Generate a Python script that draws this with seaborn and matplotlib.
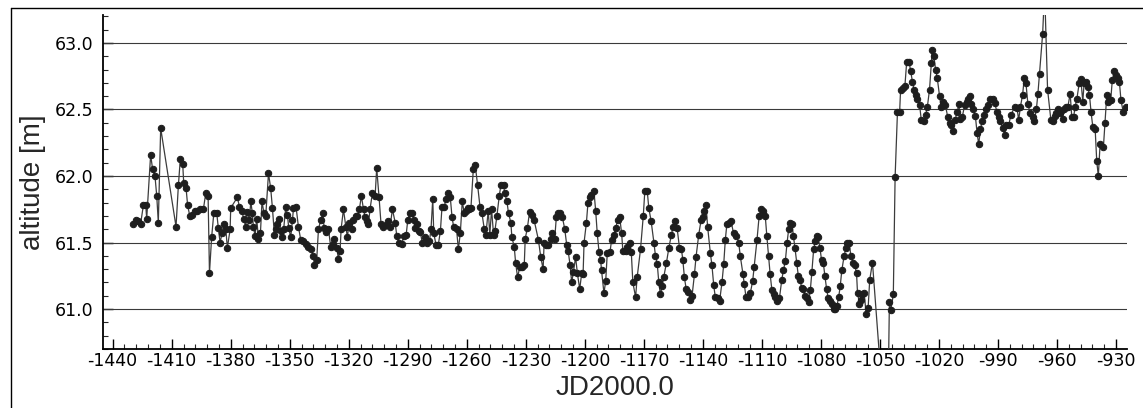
import numpy as np
import pandas as pd
import seaborn as sns
import matplotlib.pyplot as plt
from matplotlib.lines import Line2D
from matplotlib.ticker import MultipleLocator

# values (JD2000.0 day, altitude in m)
jd_early = [-1429.5, -1428.1, -1426.9, -1425.8, -1424.4, -1423.2, -1422.7, -1420.7, -1419.7, -1418.5,
            -1417.6, -1416.8, -1415.6, -1407.8, -1406.6, -1405.6, -1404.4, -1403.9, -1402.7, -1401.9,
            -1400.8, -1399.8, -1398.1, -1396.9, -1395.6, -1393.9, -1392.7, -1391.5, -1390.8, -1389.7,
            -1388.6, -1387.1, -1386.3, -1385.4, -1384.4, -1383.6, -1382.5, -1381.7, -1380.3, -1380.0,
            -1376.6, -1375.6, -1374.4, -1373.4, -1372.4, -1371.5, -1370.5, -1369.8, -1369.0, -1368.5,
            -1367.6, -1366.8, -1365.9, -1364.9, -1364.1, -1363.1, -1362.2, -1360.8, -1359.7, -1358.8,
            -1357.8, -1356.9, -1356.3, -1355.4, -1354.6, -1353.9, -1353.1, -1352.0, -1351.2, -1350.5,
            -1349.5, -1348.6, -1348.1, -1346.8, -1345.6, -1344.4, -1343.1, -1341.7, -1340.5, -1339.3,
            -1338.0, -1337.5, -1336.3, -1335.4, -1334.2, -1333.2, -1332.5, -1331.5, -1330.3, -1329.2,
            -1328.1, -1327.3, -1326.1, -1325.3, -1324.4, -1323.9, -1322.7, -1321.5, -1320.7, -1319.8,
            -1318.5, -1317.6, -1316.4, -1315.6, -1314.6, -1313.6, -1312.5, -1311.7, -1310.8, -1310.0,
            -1309.2, -1308.0, -1306.6, -1305.8, -1304.6, -1303.6, -1302.4, -1301.0, -1299.8, -1299.0,
            -1297.8, -1296.4, -1295.6, -1294.7]
alt_early = [61.64, 61.67, 61.66, 61.64, 61.78, 61.78, 61.68, 62.16, 62.05, 62.00,
             61.85, 61.65, 62.36, 61.62, 61.93, 62.13, 62.09, 61.95, 61.91, 61.78,
             61.70, 61.71, 61.74, 61.74, 61.75, 61.75, 61.87, 61.85, 61.27, 61.54,
             61.72, 61.72, 61.61, 61.50, 61.57, 61.64, 61.60, 61.46, 61.60, 61.76,
             61.84, 61.77, 61.74, 61.68, 61.62, 61.73, 61.67, 61.81, 61.72, 61.62,
             61.55, 61.68, 61.53, 61.57, 61.81, 61.72, 61.70, 62.02, 61.91, 61.76,
             61.56, 61.60, 61.64, 61.68, 61.59, 61.54, 61.60, 61.77, 61.71, 61.61,
             61.54, 61.67, 61.76, 61.77, 61.62, 61.52, 61.51, 61.49, 61.47, 61.45,
             61.40, 61.33, 61.37, 61.60, 61.67, 61.72, 61.61, 61.58, 61.60, 61.47,
             61.49, 61.53, 61.46, 61.38, 61.44, 61.60, 61.75, 61.62, 61.54, 61.65,
             61.60, 61.67, 61.70, 61.70, 61.75, 61.85, 61.75, 61.69, 61.66, 61.64,
             61.75, 61.87, 61.85, 62.06, 61.84, 61.64, 61.62, 61.63, 61.66, 61.62,
             61.75, 61.65, 61.55, 61.50]

jd_mid = [-1293.0, -1292.0, -1290.8, -1290.0, -1289.0, -1287.8, -1287.0, -1286.3, -1285.3, -1284.4,
          -1283.6, -1282.7, -1281.5, -1280.4, -1279.0, -1278.2, -1277.3, -1276.8, -1275.6, -1274.5,
          -1273.4, -1272.6, -1271.4, -1270.6, -1269.4, -1268.4, -1267.5, -1266.7, -1265.2, -1264.3,
          -1263.3, -1262.3, -1261.3, -1260.4, -1259.6, -1258.7, -1257.9, -1256.7, -1255.7, -1254.5,
          -1253.3, -1252.3, -1251.1, -1250.3, -1249.1, -1248.3, -1247.4, -1246.4, -1245.7, -1244.7,
          -1243.5, -1242.7, -1241.3, -1240.7, -1239.6, -1238.8, -1237.6, -1237.1, -1235.9, -1235.2,
          -1234.2, -1233.0, -1232.0, -1230.8, -1230.3, -1229.2, -1228.1, -1227.1, -1225.8, -1223.6,
          -1222.4, -1221.2, -1220.7, -1219.5, -1218.5, -1217.3, -1216.5, -1215.3, -1214.5, -1213.6,
          -1212.8, -1211.4, -1210.2, -1209.2, -1208.5, -1207.5, -1206.7, -1205.8, -1204.7, -1203.8,
          -1202.6, -1201.6, -1200.9, -1200.4, -1199.2, -1198.4, -1197.6, -1196.7, -1195.4, -1194.5,
          -1193.7, -1192.8, -1192.0, -1191.5, -1190.3, -1189.4, -1188.6, -1187.2, -1186.4, -1185.2,
          -1184.4, -1183.2, -1182.3, -1181.3, -1180.7, -1179.3, -1178.5, -1177.1, -1176.4, -1175.6,
          -1174.2, -1173.4, -1171.7, -1170.3, -1169.5, -1168.3, -1167.5, -1166.3, -1164.9, -1164.1,
          -1163.2, -1162.4, -1161.6, -1160.7, -1159.9, -1158.5, -1157.3, -1156.0, -1155.1, -1154.3,
          -1153.1, -1151.9, -1150.9, -1150.2, -1149.4, -1148.5, -1147.5, -1146.3, -1145.5, -1144.3,
          -1143.5, -1142.1, -1140.9, -1140.1, -1139.2, -1138.4, -1137.6, -1136.2, -1135.4, -1134.5,
          -1133.7, -1132.5, -1131.5, -1130.3, -1129.4, -1128.6, -1127.8, -1126.9, -1125.7, -1124.4,
          -1123.0, -1121.8, -1121.0, -1119.6, -1119.0, -1118.1, -1117.1, -1115.9, -1114.7, -1113.9,
          -1112.5, -1111.4, -1110.3, -1109.2, -1108.3, -1107.5, -1106.6, -1105.8, -1104.9, -1104.1,
          -1103.3, -1102.1]
alt_mid = [61.49, 61.55, 61.56, 61.67, 61.72, 61.72, 61.67, 61.61, 61.64, 61.59,
           61.58, 61.50, 61.54, 61.50, 61.51, 61.60, 61.83, 61.57, 61.48, 61.48,
           61.59, 61.77, 61.77, 61.83, 61.87, 61.84, 61.69, 61.62, 61.60, 61.45,
           61.57, 61.81, 61.72, 61.74, 61.76, 61.75, 61.76, 62.05, 62.08, 61.93,
           61.77, 61.72, 61.60, 61.56, 61.74, 61.56, 61.75, 61.56, 61.59, 61.70,
           61.85, 61.93, 61.93, 61.87, 61.81, 61.72, 61.65, 61.54, 61.47, 61.35,
           61.24, 61.32, 61.32, 61.33, 61.53, 61.61, 61.73, 61.71, 61.67, 61.52,
           61.39, 61.30, 61.50, 61.48, 61.48, 61.53, 61.57, 61.53, 61.69, 61.72,
           61.72, 61.69, 61.60, 61.48, 61.44, 61.33, 61.20, 61.28, 61.39, 61.27,
           61.15, 61.27, 61.26, 61.50, 61.65, 61.80, 61.84, 61.86, 61.89, 61.74,
           61.57, 61.43, 61.37, 61.29, 61.12, 61.21, 61.42, 61.43, 61.52, 61.56,
           61.61, 61.67, 61.69, 61.57, 61.44, 61.44, 61.47, 61.50, 61.43, 61.20,
           61.09, 61.24, 61.45, 61.70, 61.89, 61.89, 61.76, 61.66, 61.50, 61.40,
           61.34, 61.20, 61.11, 61.17, 61.24, 61.35, 61.46, 61.56, 61.62, 61.66,
           61.61, 61.46, 61.45, 61.37, 61.24, 61.15, 61.13, 61.07, 61.10, 61.26,
           61.39, 61.56, 61.67, 61.69, 61.74, 61.78, 61.62, 61.42, 61.33, 61.18,
           61.09, 61.08, 61.06, 61.20, 61.34, 61.52, 61.64, 61.65, 61.66, 61.57,
           61.55, 61.50, 61.40, 61.26, 61.19, 61.09, 61.09, 61.12, 61.21, 61.32,
           61.52, 61.70, 61.75, 61.74, 61.70, 61.55, 61.40, 61.26, 61.14, 61.11,
           61.09, 61.06]

jd_late = [-1101.1, -1099.9, -1099.1, -1098.1, -1097.2, -1096.4, -1095.5, -1094.7, -1094.0, -1093.2,
           -1092.3, -1091.5, -1090.6, -1089.8, -1089.0, -1088.1, -1087.1, -1086.3, -1085.4, -1084.6,
           -1083.7, -1082.9, -1082.0, -1081.4, -1080.5, -1079.7, -1078.8, -1078.0, -1077.1, -1076.3,
           -1075.4, -1074.4, -1073.6, -1072.7, -1071.9, -1071.0, -1070.2, -1069.4, -1068.2, -1067.3,
           -1066.5, -1065.6, -1064.8, -1063.6, -1062.8, -1061.9, -1061.4, -1060.4, -1059.7, -1058.9,
           -1058.0, -1057.0, -1056.0, -1055.2, -1053.8, -1049.5, -1046.0, -1045.2, -1044.5, -1043.2,
           -1042.3, -1041.1, -1040.0, -1039.5, -1038.1, -1037.3, -1036.4, -1035.2, -1034.4, -1033.5,
           -1032.7, -1031.9, -1031.0, -1029.8, -1029.0, -1027.6, -1026.8, -1025.9, -1024.8, -1023.9,
           -1023.4, -1022.6, -1021.7, -1020.9, -1019.7, -1018.9, -1017.8, -1016.7, -1015.5, -1014.6,
           -1013.8, -1012.8, -1011.9, -1010.7, -1009.9, -1009.1, -1008.2, -1007.0, -1006.0, -1005.2,
           -1004.3, -1003.6, -1002.6, -1001.5, -1000.6, -999.8, -998.9, -998.1, -997.2, -996.0,
           -995.0, -993.9, -992.7, -991.7, -990.5, -989.6, -988.8, -987.6, -986.6, -985.9,
           -984.6, -983.4, -981.5, -980.3, -979.5, -978.6, -977.5, -976.6, -975.8, -974.8,
           -973.6, -972.4, -971.6, -970.5, -969.7, -968.9, -967.3, -966.3, -964.8, -963.1,
           -962.1, -961.2, -960.4, -959.6, -958.7, -957.9, -957.2, -956.4, -955.5, -954.5,
           -953.3, -952.5, -951.6, -950.8, -949.9, -948.7, -947.9, -946.9, -946.2, -945.4,
           -944.4, -943.5, -942.7, -941.8, -940.6, -939.8, -939.0, -938.1, -936.4, -935.6,
           -934.7, -933.9, -932.7, -931.9, -930.8, -930.0, -929.2, -928.3, -927.5, -926.3,
           -925.1]
alt_late = [61.08, 61.22, 61.29, 61.36, 61.50, 61.60, 61.65, 61.64, 61.55, 61.46,
            61.35, 61.25, 61.22, 61.16, 61.15, 61.10, 61.08, 61.05, 61.14, 61.28,
            61.45, 61.51, 61.55, 61.54, 61.46, 61.37, 61.35, 61.25, 61.15, 61.08,
            61.06, 61.04, 61.00, 61.00, 61.02, 61.09, 61.17, 61.29, 61.40, 61.46,
            61.50, 61.50, 61.40, 61.35, 61.33, 61.27, 61.12, 61.04, 61.07, 61.11,
            61.12, 60.96, 61.01, 61.22, 61.35, 60.50, 60.20, 61.05, 60.99, 61.11,
            61.99, 62.48, 62.48, 62.65, 62.66, 62.68, 62.86, 62.86, 62.79, 62.71,
            62.65, 62.61, 62.58, 62.53, 62.42, 62.41, 62.46, 62.52, 62.65, 62.85,
            62.95, 62.90, 62.80, 62.74, 62.60, 62.52, 62.56, 62.53, 62.44, 62.40,
            62.38, 62.34, 62.42, 62.48, 62.54, 62.43, 62.44, 62.53, 62.56, 62.58,
            62.60, 62.54, 62.50, 62.45, 62.32, 62.24, 62.35, 62.41, 62.46, 62.50,
            62.53, 62.58, 62.58, 62.55, 62.48, 62.44, 62.41, 62.36, 62.31, 62.38,
            62.38, 62.46, 62.52, 62.51, 62.42, 62.52, 62.61, 62.74, 62.70, 62.54,
            62.47, 62.44, 62.41, 62.50, 62.62, 62.77, 63.07, 63.40, 62.65, 62.42,
            62.41, 62.45, 62.47, 62.50, 62.47, 62.49, 62.43, 62.50, 62.52, 62.52,
            62.62, 62.44, 62.44, 62.52, 62.58, 62.70, 62.73, 62.56, 62.70, 62.71,
            62.67, 62.61, 62.48, 62.37, 62.35, 62.11, 62.00, 62.24, 62.22, 62.40,
            62.61, 62.56, 62.57, 62.72, 62.79, 62.76, 62.74, 62.71, 62.57, 62.48,
            62.52]

df = pd.DataFrame({
    'jd': jd_early + jd_mid + jd_late,
    'alt': alt_early + alt_mid + alt_late,
})

sns.set_style('ticks')
plt.rcParams['font.family'] = ['DejaVu Sans']
plt.rcParams['axes.unicode_minus'] = False

fig = plt.figure(figsize=(11.43, 4.08), dpi=100)
ax = fig.add_axes([0.0898, 0.1446, 0.8959, 0.8186])

# horizontal grid at the major y ticks
for yv in [61.0, 61.5, 62.0, 62.5, 63.0]:
    ax.axhline(yv, color='#3a3a3a', lw=0.8, zorder=1)

sns.lineplot(data=df, x='jd', y='alt', sort=False, ax=ax, color='#3c3c3c', lw=0.9,
             marker='o', markersize=4.6, markerfacecolor='#1e1e1e', markeredgecolor='#1e1e1e',
             zorder=3)

ax.set_xlim(-1445.1, -924.6)
ax.set_ylim(60.70, 63.21)
ax.xaxis.set_major_locator(MultipleLocator(30))
ax.xaxis.set_minor_locator(MultipleLocator(6))
ax.yaxis.set_major_locator(MultipleLocator(0.5))
ax.yaxis.set_minor_locator(MultipleLocator(0.1))
ax.set_xticks(np.arange(-1440, -929, 30))
ax.yaxis.set_major_formatter(plt.FormatStrFormatter('%.1f'))

ax.tick_params(axis='both', which='major', direction='in', length=7, width=1.0,
               labelsize=12.5, colors='black')
ax.tick_params(axis='both', which='minor', direction='in', length=3.5, width=0.8)
ax.tick_params(axis='x', which='major', pad=2)
ax.tick_params(axis='y', which='major', pad=7)

for side in ['top', 'right']:
    ax.spines[side].set_visible(False)
for side in ['left', 'bottom']:
    ax.spines[side].set_color('black')
    ax.spines[side].set_linewidth(1.3)

ax.set_xlabel('JD2000.0', fontsize=20, family=['Liberation Sans', 'DejaVu Sans'], labelpad=4)
ax.set_ylabel('altitude [m]', fontsize=20, family=['Liberation Sans', 'DejaVu Sans'], labelpad=6)

# outer frame lines (left and top) of the original screenshot
fig.add_artist(Line2D([10.5 / 1143, 10.5 / 1143], [0, 1 - 7.5 / 408], color='black', lw=1.0))
fig.add_artist(Line2D([10.5 / 1143, 1], [1 - 7.5 / 408, 1 - 7.5 / 408], color='black', lw=1.0))

fig.savefig('out.png', dpi=100)
